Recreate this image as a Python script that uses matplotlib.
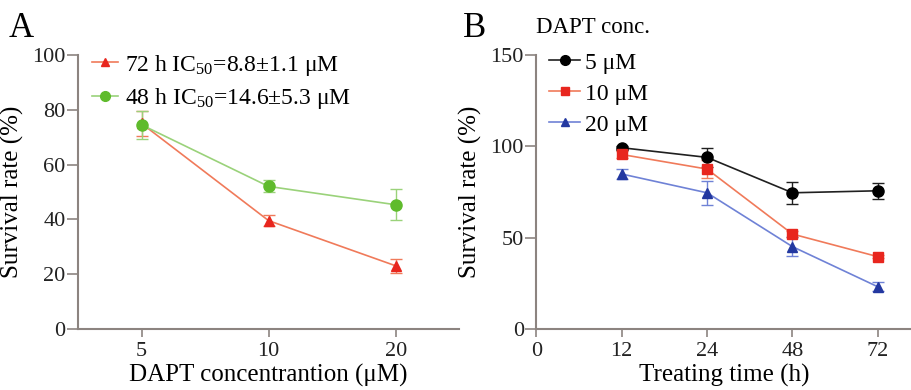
import matplotlib
matplotlib.use("Agg")
import matplotlib.pyplot as plt
from matplotlib.lines import Line2D

plt.rcParams["font.family"] = ["Liberation Serif", "DejaVu Serif"]
plt.rcParams["mathtext.fontset"] = "custom"
plt.rcParams["mathtext.rm"] = "Liberation Serif"
plt.rcParams["mathtext.it"] = "Liberation Serif:italic"

# Panel A: survival vs DAPT concentration
conc_labels = ["5", "10", "20"]
a_72h = [75.0, 39.5, 23.0]
a_72h_err = [4.5, 2.0, 2.5]
a_48h = [74.5, 52.0, 45.3]
a_48h_err = [5.2, 2.2, 5.6]

# Panel B: survival vs treating time
time_labels = ["0", "12", "24", "48", "72"]
b_5um = [99.2, 93.9, 74.5, 75.6]
b_5um_err = [1.2, 5.0, 6.0, 4.5]
b_10um = [95.5, 87.5, 51.9, 39.5]
b_10um_err = [2.0, 5.0, 1.5, 1.0]
b_20um = [84.8, 74.5, 45.0, 23.0]
b_20um_err = [2.5, 6.5, 5.3, 2.5]

spine_col = "#8c8480"
fig = plt.figure(figsize=(9.12, 3.9), dpi=100)
axA = fig.add_axes([0.0855, 0.157, 0.418, 0.702])
axB = fig.add_axes([0.588, 0.157, 0.412, 0.702])

for ax in (axA, axB):
    for s in ("top", "right"):
        ax.spines[s].set_visible(False)
    for s in ("left", "bottom"):
        ax.spines[s].set_color(spine_col)
        ax.spines[s].set_linewidth(1.5)
    ax.tick_params(colors=spine_col, labelcolor="#222222", labelsize=16,
                   width=1.2)
    ax.tick_params(axis="y", length=8, pad=1)
    ax.tick_params(axis="x", length=6)


def series(ax, x, y, err, line_col, mark_col, marker, ms, label):
    ax.errorbar(x, y, yerr=err, color=line_col, lw=1.2, marker=marker,
                ms=ms, mfc=mark_col, mec=mark_col, capsize=4,
                elinewidth=1, ecolor=line_col)
    return Line2D([], [], color=line_col, lw=1.2, marker=marker, ms=ms - 1,
                  mfc=mark_col, mec=mark_col, label=label)


# ---- Panel A
xa = range(len(conc_labels))
hA = [
    series(axA, xa, a_72h, a_72h_err, "#f07a5a", "#e8261e", "^", 7,
           "72 h IC$_{50}$=8.8±1.1 μM"),
    series(axA, xa, a_48h, a_48h_err, "#9ad27a", "#5fbb2c", "o", 8,
           "48 h IC$_{50}$=14.6±5.3 μM"),
]
axA.set_xlim(-0.5, 2.5)
axA.set_ylim(0, 100)
axA.set_yticks([0, 20, 40, 60, 80, 100])
axA.set_xticks(list(xa))
axA.set_xticklabels(conc_labels)
axA.set_xlabel("DAPT concentrantion (μM)", fontsize=18, labelpad=2)
axA.set_ylabel("Survival rate (%)", fontsize=18, labelpad=6)
axA.legend(handles=hA, loc="upper left", bbox_to_anchor=(0.0, 1.06),
           frameon=False, fontsize=17, handlelength=1.1, handletextpad=0.3,
           labelspacing=0.35, borderaxespad=0.2)
fig.text(0.010, 0.905, "A", fontsize=25)

# ---- Panel B
xb = range(1, len(time_labels))
hB = [
    series(axB, xb, b_5um, b_5um_err, "#202020", "black", "o", 8, "5 μM"),
    series(axB, xb, b_10um, b_10um_err, "#f07a5a", "#e8261e", "s", 7,
           "10 μM"),
    series(axB, xb, b_20um, b_20um_err, "#6f82d6", "#2338a0", "^", 7,
           "20 μM"),
]
axB.set_xlim(0, 4.4)
axB.set_ylim(0, 150)
axB.set_yticks([0, 50, 100, 150])
axB.set_xticks(range(len(time_labels)))
axB.set_xticklabels(time_labels)
axB.set_xlabel("Treating time (h)", fontsize=18, labelpad=2)
axB.set_ylabel("Survival rate (%)", fontsize=18, labelpad=6)
axB.legend(handles=hB, loc="upper left", bbox_to_anchor=(0.01, 1.045),
           frameon=False, fontsize=17, handlelength=1.3, handletextpad=0.2,
           labelspacing=0.4, borderaxespad=0.0)
fig.text(0.588, 0.93, "DAPT conc.", fontsize=16.5, va="center")
fig.text(0.508, 0.905, "B", fontsize=25)

fig.savefig("out.png", dpi=100)
